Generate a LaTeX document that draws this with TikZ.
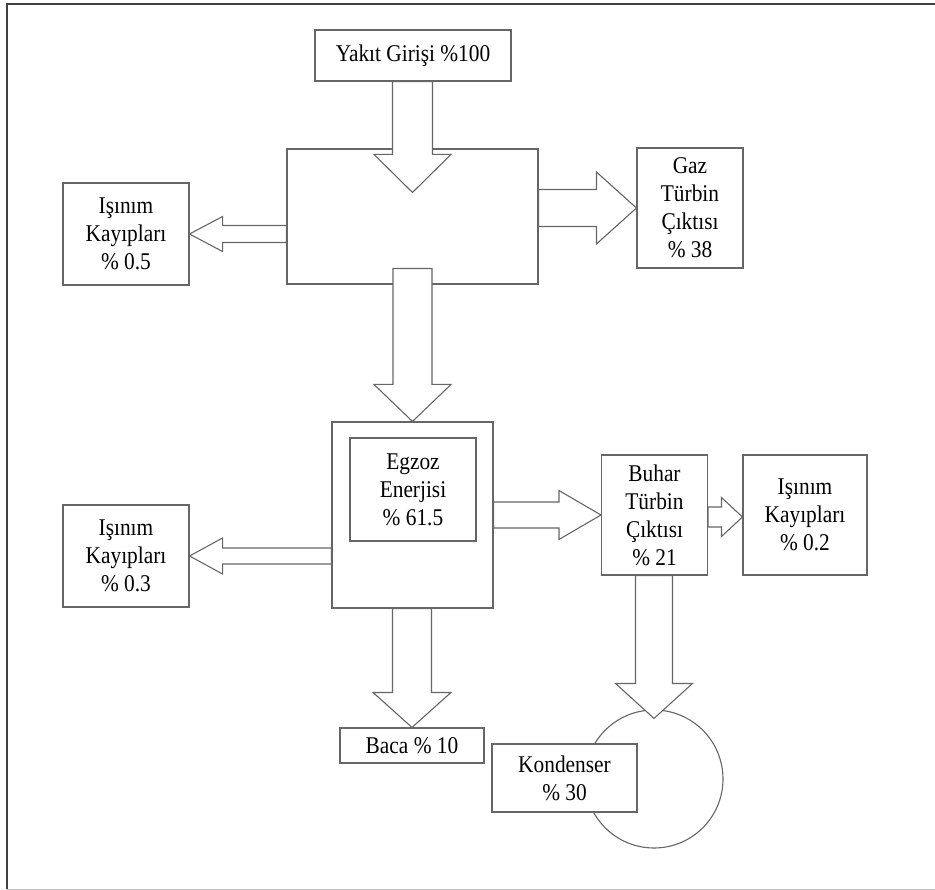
\documentclass[tikz,border=0pt]{standalone}
\usepackage{fontspec}
\setmainfont{Liberation Serif}[FakeStretch=0.89]
\usetikzlibrary{calc}
\tikzset{
  box/.style={draw=black!60, line width=1.1pt, fill=white, align=center, inner sep=0pt,
    font=\fontsize{24}{28}\selectfont},
  fatarrow/.style={draw=black!60, line width=1.1pt, fill=white, line join=miter},
}
% downward block arrow: start, tip, shaft half width, head half width, head length
\newcommand{\vfat}[5]{%
  \draw[fatarrow] let \p1=#1, \p2=#2 in
    ({\x2-#3},\y1) -- ({\x2-#3},{\y2+#5}) -- ({\x2-#4},{\y2+#5}) -- (\p2)
    -- ({\x2+#4},{\y2+#5}) -- ({\x2+#3},{\y2+#5}) -- ({\x2+#3},\y1) -- cycle;}
% sideways block arrow: start, tip, shaft half width, head half width, head length, direction (1 or -1)
\newcommand{\hfat}[6]{%
  \draw[fatarrow] let \p1=#1, \p2=#2 in
    (\x1,{\y2+#3}) -- ({\x2-(#6)*#5},{\y2+#3}) -- ({\x2-(#6)*#5},{\y2+#4}) -- (\p2)
    -- ({\x2-(#6)*#5},{\y2-#4}) -- ({\x2-(#6)*#5},{\y2-#3}) -- (\x1,{\y2-#3}) -- cycle;}

\begin{document}
\begin{tikzpicture}[x=1pt,y=-1pt]
  \useasboundingbox (0,0) rectangle (935,890);
  % frame
  \draw[black!75,line width=1.2pt] (7,889) -- (7,4) -- (935,4);
  \draw[black!25,line width=1pt] (7,889) -- (935,889);

  % gas turbine part
  \node[box, minimum width=196pt, minimum height=51pt] (fuel) at (413,55.5) {Yakıt Girişi \%100};
  \node[box, minimum width=251pt, minimum height=135pt] (comb) at (412.5,216.5) {};
  \node[box, minimum width=126pt, minimum height=102pt] (rad1) at (126,234) {Işınım\\Kayıpları\\\% 0.5};
  \node[box, minimum width=106pt, minimum height=120pt] (gas) at (690,208) {Gaz\\Türbin\\Çıktısı\\\% 38};
  \vfat{(fuel.south)}{([yshift=-44pt]comb.north)}{20pt}{38.5pt}{38pt}
  \hfat{(comb.west)}{(rad1.east)}{8.5pt}{17.5pt}{33pt}{-1}
  \hfat{(comb.east)}{(gas.west)}{18.5pt}{36pt}{40pt}{1}

  % steam part
  \node[box, minimum width=161pt, minimum height=186pt] (hrsg) at (412.5,515) {};
  \node[box, minimum width=126pt, minimum height=103pt] (exh) at (413,489.5) {Egzoz\\Enerjisi\\\% 61.5};
  \vfat{([yshift=16pt]comb.south)}{(hrsg.north)}{19.5pt}{38.5pt}{37pt}
  \node[box, minimum width=106pt, minimum height=120pt] (steam) at (654.5,515) {Buhar\\Türbin\\Çıktısı\\\% 21};
  \node[box, minimum width=124pt, minimum height=120pt] (rad3) at (805,515) {Işınım\\Kayıpları\\\% 0.2};
  \node[box, minimum width=126pt, minimum height=102pt] (rad2) at (126,556) {Işınım\\Kayıpları\\\% 0.3};
  \node[box, minimum width=144pt, minimum height=35pt] (stack) at (412,745.5) {Baca \% 10};
  \node[draw=black!60, line width=1.1pt, circle, minimum size=138pt] (cond) at (654,779) {};
  \hfat{(hrsg.east)}{(steam.west)}{13pt}{24.5pt}{42pt}{1}
  \hfat{(steam.east)}{([yshift=-2pt]rad3.west)}{10pt}{19.5pt}{21pt}{1}
  \hfat{(hrsg.west)}{(rad2.east)}{8pt}{18pt}{33pt}{-1}
  \vfat{(hrsg.south)}{(stack.north)}{19.5pt}{39pt}{35pt}
  \vfat{(steam.south)}{([yshift=-9pt]cond.north)}{18.5pt}{38.5pt}{35pt}
  \node[box, minimum width=145pt, minimum height=68pt] (condbox) at (564.5,778) {Kondenser\\\% 30};
\end{tikzpicture}
\end{document}
